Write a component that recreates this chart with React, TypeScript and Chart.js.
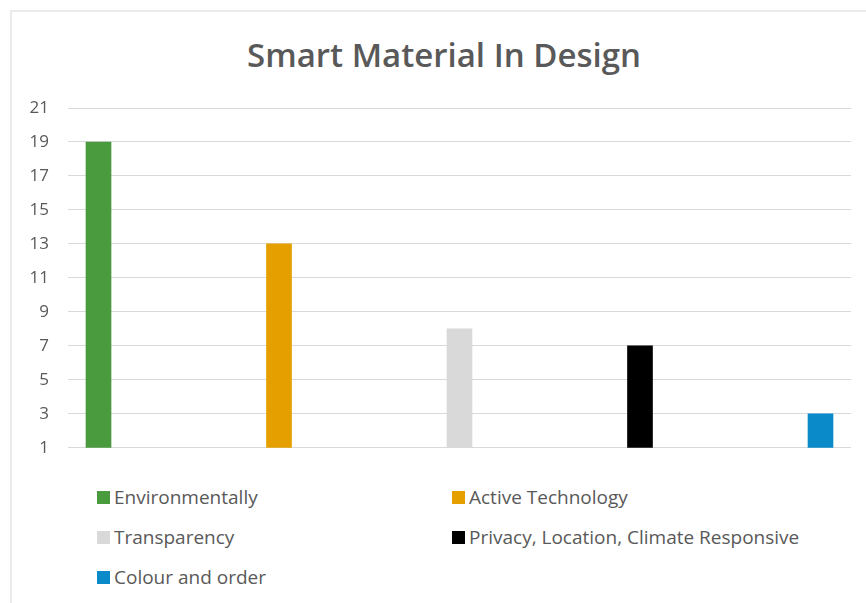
import React, { useEffect, useRef } from "react";
import { Chart, registerables } from "chart.js";

Chart.register(...registerables);

const seriesNames = [
  "Environmentally",
  "Active Technology",
  "Transparency",
  "Privacy, Location, Climate Responsive",
  "Colour and order",
];
const seriesValues = [19, 13, 8, 7, 3];
const seriesColors = ["#4a9a3e", "#e5a000", "#d9d9d9", "#000000", "#0a8ac9"];
const yTicks = [1, 3, 5, 7, 9, 11, 13, 15, 17, 19, 21];
const titleText = "Smart Material In Design";

const FONT = "'Open Sans', Lato, sans-serif";
const TEXT = "#595959";

export default function App() {
  const canvasRef = useRef<HTMLCanvasElement | null>(null);

  useEffect(() => {
    const canvas = canvasRef.current;
    if (!canvas) return;
    const chart = new Chart(canvas, {
      type: "bar",
      data: {
        datasets: seriesNames.map((name, i) => ({
          label: name,
          data: [{ x: i, y: seriesValues[i] }],
          backgroundColor: seriesColors[i],
          borderWidth: 0,
          barThickness: 25,
          grouped: false,
        })),
      },
      options: {
        animation: false,
        responsive: false,
        maintainAspectRatio: false,
        layout: { padding: { left: 0, right: 15, top: 108, bottom: 13 } },
        plugins: {
          legend: { display: false },
          tooltip: { enabled: false },
          title: { display: false },
        },
        scales: {
          x: {
            type: "linear",
            display: false,
            offset: false,
            min: -0.169,
            max: 4.169,
          },
          y: {
            min: 1,
            max: 21,
            afterFit: (scale: any) => {
              scale.width = 68;
            },
            afterBuildTicks: (scale: any) => {
              scale.ticks = yTicks.map((v) => ({ value: v }));
            },
            border: { display: false },
            grid: { color: "#d9d9d9", lineWidth: 1, drawTicks: false },
            ticks: {
              color: TEXT,
              padding: 19,
              font: { family: FONT, size: 17 },
            },
          },
        },
      },
    });
    return () => chart.destroy();
  }, []);

  const legendItem = (i: number, left: number, top: number) => (
    <div
      key={i}
      style={{
        position: "absolute",
        left,
        top,
        display: "flex",
        alignItems: "center",
        whiteSpace: "nowrap",
        fontFamily: FONT,
        fontSize: 19,
        color: TEXT,
        lineHeight: "20px",
      }}
    >
      <span
        style={{
          display: "inline-block",
          width: 13,
          height: 13,
          background: seriesColors[i],
          marginRight: 4,
        }}
      />
      <span>{seriesNames[i]}</span>
    </div>
  );

  return (
    <div
      style={{
        position: "absolute",
        left: 0,
        top: 0,
        width: 866,
        height: 603,
        background: "#ffffff",
        overflow: "hidden",
      }}
    >
      <div
        style={{
          position: "absolute",
          left: 10,
          top: 10,
          width: 900,
          height: 700,
          borderTop: "2px solid #ebebeb",
          borderLeft: "2px solid #ebebeb",
        }}
      />
      <div
        style={{
          position: "absolute",
          left: 224,
          width: 440,
          top: 33,
          textAlign: "center",
          fontFamily: FONT,
          fontWeight: 600,
          fontSize: 33,
          lineHeight: "44px",
          color: TEXT,
          whiteSpace: "nowrap",
        }}
      >
        {titleText}
      </div>
      <canvas
        ref={canvasRef}
        width={866}
        height={477}
        style={{ position: "absolute", left: 0, top: 0, width: 866, height: 477 }}
      />
      {legendItem(0, 97, 487)}
      {legendItem(1, 452, 487)}
      {legendItem(2, 97, 527)}
      {legendItem(3, 452, 527)}
      {legendItem(4, 97, 567)}
    </div>
  );
}
